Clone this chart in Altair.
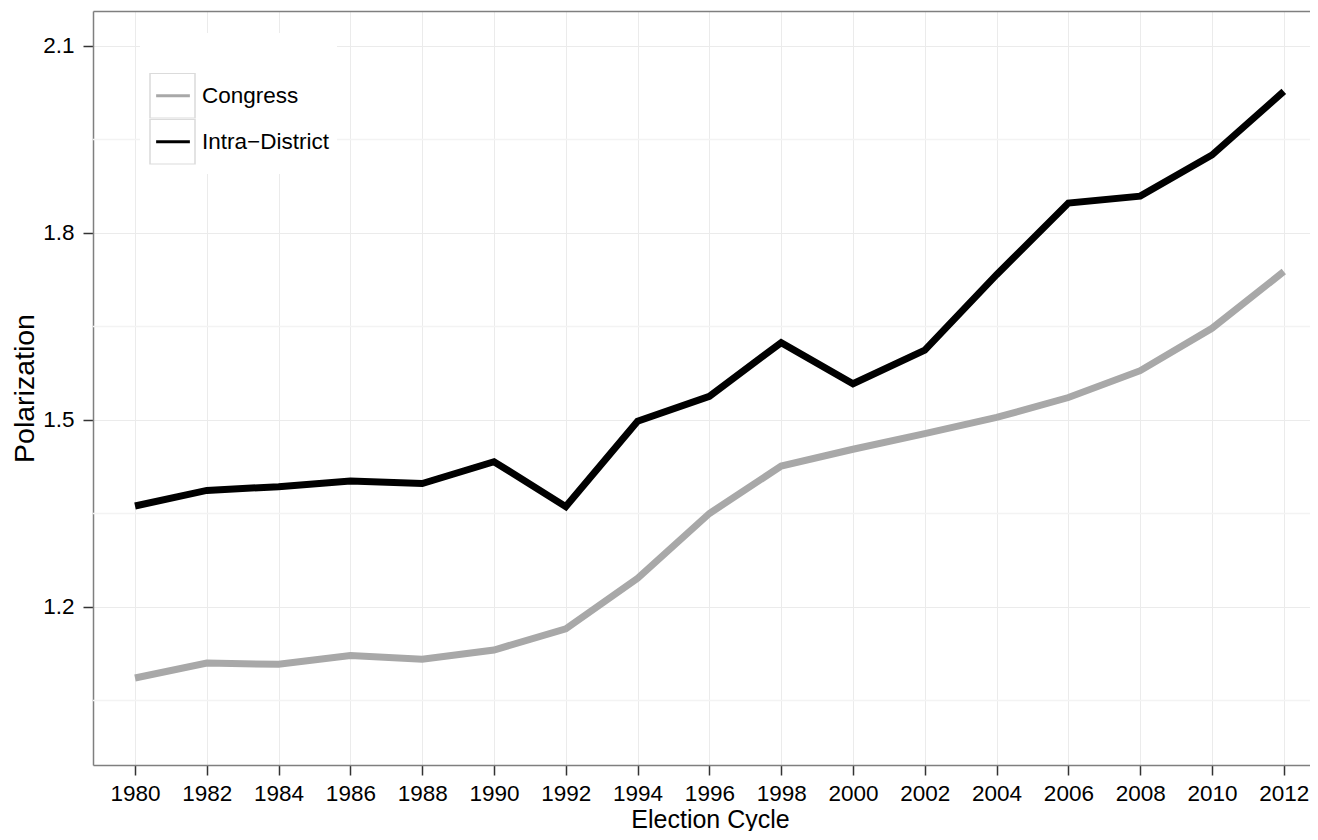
import altair as alt
import pandas as pd

# ---- data ----
years = [1980, 1982, 1984, 1986, 1988, 1990, 1992, 1994, 1996, 1998,
         2000, 2002, 2004, 2006, 2008, 2010, 2012]
congress = [1.086, 1.110, 1.108, 1.122, 1.116, 1.131, 1.165, 1.246, 1.350,
            1.426, 1.453, 1.478, 1.504, 1.536, 1.579, 1.647, 1.738]
intra_district = [1.362, 1.387, 1.393, 1.402, 1.398, 1.433, 1.361, 1.498,
                  1.538, 1.624, 1.558, 1.612, 1.733, 1.848, 1.859, 1.925, 2.027]
series_names = ["Congress", "Intra\u2212District"]
series_colors = ["#A8A8A8", "#000000"]
y_major = [1.2, 1.5, 1.8, 2.1]
y_minor = [1.05, 1.35, 1.65, 1.95]
y_domain = [0.9465, 2.156]
x_domain = [1978.83, 2012.73]

rows = []
for yr, c, d in zip(years, congress, intra_district):
    rows.append({"year": yr, "value": c, "series": series_names[0]})
    rows.append({"year": yr, "value": d, "series": series_names[1]})
df = pd.DataFrame(rows)
minor_df = pd.DataFrame({"value": y_minor})

FONT = "Liberation Sans"
x_scale = alt.Scale(domain=x_domain, nice=False, zero=False)
y_scale = alt.Scale(domain=y_domain, nice=False, zero=False)

y_axis = alt.Axis(values=y_major, format=".1f",
                  labelFont=FONT, labelFontSize=22.5, labelColor="#000000",
                  labelPadding=9, tickSize=10, tickWidth=1.5, tickColor="#333333",
                  domain=True, domainColor="#7F7F7F", domainWidth=1.5,
                  grid=True, gridColor="#EBEBEB", gridWidth=1,
                  title="Polarization", titleFont=FONT, titleFontSize=28.5,
                  titleFontWeight="normal", titleColor="#000000",
                  titleX=-60, titleY=377, titleBaseline="alphabetic")
y_enc = alt.Y("value:Q", scale=y_scale, axis=y_axis)

legend_common = dict(
    orient="none", legendX=47, legendY=22, title=" ",
    titleFontSize=22, titlePadding=9, padding=9, rowPadding=0,
    symbolSize=2025, clipHeight=45.5, labelOffset=5, labelFont=FONT,
    labelFontSize=22.5, labelColor="#000000", labelLimit=400,
)

minor = alt.Chart(minor_df).mark_rule(color="#F3F3F3", strokeWidth=1.5).encode(
    y=y_enc,
)

box_names = [s + "\u200b" for s in series_names]
boxes = (
    alt.Chart(df)
    .transform_calculate(series2="datum.series + '\u200b'")
    .transform_filter("false")
    .mark_point(color="#CCCCCC", filled=False)
    .encode(
        x=alt.X("year:Q", scale=x_scale,
                axis=alt.Axis(orient="top", labels=False, ticks=False, grid=False,
                              domain=True, domainColor="#7F7F7F", domainWidth=1.5,
                              title=None)),
        y=y_enc,
        shape=alt.Shape("series2:N",
                        scale=alt.Scale(domain=box_names, range=["square", "square"]),
                        legend=alt.Legend(symbolType="square", symbolStrokeWidth=1.5,
                                          symbolStrokeColor="#CCCCCC",
                                          fillColor="#FFFFFF", labelOpacity=0,
                                          **legend_common)),
    )
)

lines = alt.Chart(df).mark_line(strokeWidth=7).encode(
    x=alt.X("year:Q", scale=x_scale,
            axis=alt.Axis(orient="bottom", values=years, format="d",
                          labelFont=FONT, labelFontSize=22.5, labelColor="#000000",
                          labelPadding=7, labelFlush=False, labelOverlap=False,
                          tickSize=10, tickWidth=1.5, tickColor="#333333",
                          domain=True, domainColor="#7F7F7F", domainWidth=1.5,
                          grid=True, gridColor="#EBEBEB", gridWidth=1,
                          title="Election Cycle", titleFont=FONT, titleFontSize=25,
                          titleFontWeight="normal", titleColor="#000000",
                          titleX=617, titleY=62, titleBaseline="alphabetic")),
    y=y_enc,
    color=alt.Color("series:N",
                    scale=alt.Scale(domain=series_names, range=series_colors),
                    legend=alt.Legend(symbolType="M-0.75,0H0.75", symbolStrokeWidth=3,
                                      **legend_common)),
)

chart = (
    alt.layer(minor, boxes, lines)
    .resolve_axis(x="independent")
    .properties(
        width=1217, height=754,
        autosize=alt.AutoSizeParams(type="none"),
        padding={"left": 85, "top": 3, "right": 0, "bottom": 66},
        background="#FFFFFF",
    )
    .configure_view(stroke=None)
)

chart.save("out.html", embed_options={"renderer": "svg", "actions": False})
